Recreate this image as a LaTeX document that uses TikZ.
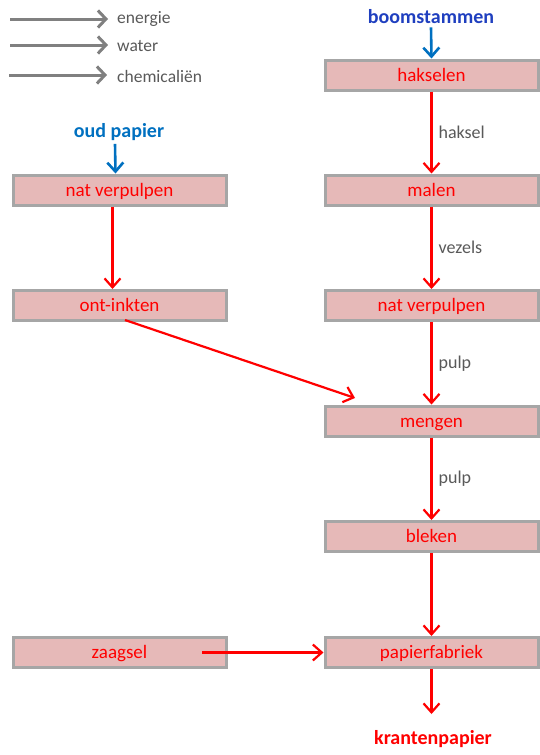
\documentclass[tikz,border=0pt]{standalone}
\usepackage{fontspec}
\setmainfont{Carlito}
\usetikzlibrary{arrows.meta}
\definecolor{boxfill}{HTML}{E6B9B8}
\definecolor{boxline}{HTML}{A6A6A6}
\definecolor{legendgray}{HTML}{808080}
\definecolor{labelgray}{HTML}{595959}
\definecolor{darkblue}{HTML}{1F3FBF}
\definecolor{midblue}{HTML}{0070C0}
\tikzset{
  proc/.style={draw=boxline, line width=3pt, fill=boxfill, minimum width=213pt, minimum height=30pt, inner sep=0pt, text height=12.5pt, text depth=0.5pt, text=red, font=\fontsize{19}{22}\selectfont},
  flow/.style={draw=red, line width=2.2pt, -{Straight Barb[length=9pt,width=16pt,line width=2.2pt]}},
  inflow/.style={draw=midblue, line width=2.6pt, -{Straight Barb[length=9pt,width=16pt,line width=2.6pt]}},
  leg/.style={draw=legendgray, line width=3pt, -{Straight Barb[length=8pt,width=17pt,line width=3pt]}},
  legtext/.style={anchor=west, text=labelgray, font=\fontsize{17.5}{20}\selectfont, inner sep=0pt},
  flowlabel/.style={anchor=west, text=labelgray, font=\fontsize{18}{21}\selectfont, inner sep=0pt},
  endlabel/.style={font=\bfseries\fontsize{20}{24}\selectfont, inner sep=0pt}
}
\begin{document}
\begin{tikzpicture}[x=1pt,y=-1pt]
\useasboundingbox (0,0) rectangle (539,755);
% legend
\coordinate (l1a) at (10,19); \coordinate (l1b) at (108,19);
\coordinate (l2a) at (10,45); \coordinate (l2b) at (108,45);
\coordinate (l3a) at (9,75); \coordinate (l3b) at (107,75);
\draw[leg] (l1a) -- (l1b);
\draw[leg] (l2a) -- (l2b);
\draw[leg] (l3a) -- (l3b);
\node[legtext] (t1) at (117,19) {energie};
\node[legtext] (t2) at (117,46) {water};
\node[legtext] (t3) at (117,76) {chemicaliën};
% right column
\node[proc] (hak) at (431.5,75) {hakselen};
\node[proc] (mal) at (431.5,190) {malen};
\node[proc] (nvr) at (431.5,305.5) {nat verpulpen};
\node[proc] (men) at (431.5,421) {mengen};
\node[proc] (ble) at (431.5,536.5) {bleken};
\node[proc] (pap) at (431.5,652.5) {papierfabriek};
% left column
\node[proc] (nvl) at (119.5,190) {nat verpulpen};
\node[proc] (ont) at (119.5,305.5) {ont-inkten};
\node[proc] (zaa) at (119.5,652.5) {zaagsel};
% sources and product
\node[endlabel, text=darkblue] (boom) at (431,17) {boomstammen};
\node[endlabel, text=midblue] (oud) at (119,132) {oud papier};
\node[endlabel, text=red] (kran) at (433,739) {krantenpapier};
% inflows
\draw[inflow] (boom.south) ++(0,3) coordinate (b0) -- (hak.north);
\draw[inflow] (oud.south) ++(-4,3) coordinate (o0) -- ([xshift=-4pt]nvl.north);
% flows right
\draw[flow] (hak) -- (mal) node[midway, flowlabel, xshift=6pt] (f1) {haksel};
\draw[flow] (mal) -- (nvr) node[midway, flowlabel, xshift=6pt] (f2) {vezels};
\draw[flow] (nvr) -- (men) node[midway, flowlabel, xshift=6pt] (f3) {pulp};
\draw[flow] (men) -- (ble) node[midway, flowlabel, xshift=6pt] (f4) {pulp};
\draw[flow] (ble) -- (pap);
\draw[flow] (pap.south) -- ++(0,45) coordinate (k0);
% flows left
\draw[flow] ([xshift=-7pt]nvl.south) -- ([xshift=-7pt]ont.north);
\coordinate (oa) at (125,320);
\coordinate (ob) at (355,398);
\draw[flow] (oa) -- (ob);
\coordinate (za) at (202,652.5);
\draw[flow] (za) -- (pap.west);
\end{tikzpicture}
\end{document}
